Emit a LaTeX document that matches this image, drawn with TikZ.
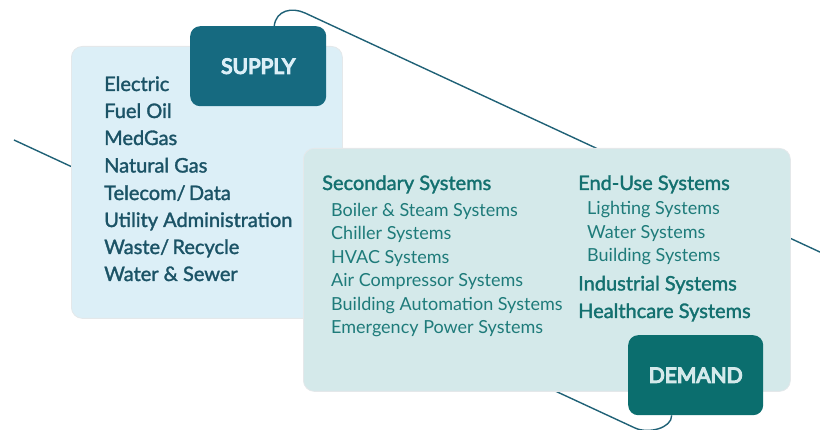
\documentclass[tikz,border=0pt]{standalone}
\usepackage{fontspec}
\setmainfont{Lato}
\newfontfamily\medfont{Lato}[FakeBold=1.6]
\newfontfamily\heavyfont{Lato}[FakeBold=6]
\usetikzlibrary{calc}
\definecolor{supfill}{HTML}{DCEFF7}
\definecolor{demfill}{HTML}{D4E9EA}
\definecolor{suptab}{HTML}{166A80}
\definecolor{demtab}{HTML}{0B6E6E}
\definecolor{suptext}{HTML}{1B5366}
\definecolor{demhead}{HTML}{13706F}
\definecolor{demsub}{HTML}{1E7B7A}
\definecolor{linecol}{HTML}{1F6176}
\definecolor{edge}{HTML}{E4E8EA}
\pgfdeclarelayer{bg}
\pgfsetlayers{bg,main}
\tikzset{
  panel/.style={draw=edge, line width=0.8pt, rounded corners=11pt, anchor=north west, inner sep=0pt},
  tabbox/.style={rounded corners=10pt, anchor=north west, inner sep=0pt, minimum width=136pt, minimum height=80pt},
  tablabel/.style={font=\fontsize{21}{24}\selectfont\heavyfont},
  supitem/.style={anchor=base west, inner sep=0pt, text=suptext, font=\fontsize{20}{24}\selectfont\medfont},
  demhd/.style={anchor=base west, inner sep=0pt, text=demhead, font=\fontsize{20}{22}\selectfont\medfont},
  demitem/.style={anchor=base west, inner sep=0pt, text=demsub, font=\fontsize{18}{20}\selectfont},
  connector/.style={draw=linecol, line width=1.4pt}
}
\begin{document}
\begin{tikzpicture}[x=1pt,y=-1pt]
\useasboundingbox (0,0) rectangle (820,430);
% panels
\node[panel, fill=supfill, minimum width=271pt, minimum height=272pt] (supplybox) at (71,46) {};
\node[tabbox, fill=suptab] (supplytab) at (190,26) {};
\node[tablabel, text=supfill] (supplylabel) at (supplytab.center) {SUPPLY};
\node[panel, fill=demfill, minimum width=487pt, minimum height=243pt] (demandbox) at (303,148) {};
\node[tabbox, fill=demtab, minimum width=135pt] (demandtab) at (628,335) {};
\node[tablabel, text=demfill] (demandlabel) at (demandtab.center) {DEMAND};
% connectors
\coordinate (leftend) at (14,140);
\coordinate (rightend) at (822,253);
\coordinate (topbend) at (305,13);
\coordinate (botbend) at (635,428);
\begin{pgfonlayer}{bg}
\draw[connector] ([xshift=16pt]supplytab.north) .. controls +(2,-16) and +(-13,-6) .. (topbend) -- (rightend);
\draw[connector] (leftend) -- (botbend) .. controls +(13,6) and +(0,13) .. ([xshift=-24pt]demandtab.south);
\end{pgfonlayer}
% supply list
\node[supitem] (s1) at (104,91) {Electric};
\node[supitem] (s2) at (104,118) {Fuel Oil};
\node[supitem] (s3) at (104,145) {MedGas};
\node[supitem] (s4) at (104,172.5) {Natural Gas};
\node[supitem] (s5) at (104,200) {Telecom/\,Data};
\node[supitem] (s6) at (104,227) {Utility Administration};
\node[supitem] (s7) at (104,254) {Waste/\,Recycle};
\node[supitem] (s8) at (104,281) {Water \& Sewer};
% secondary systems
\node[demhd] (d1) at (322,190) {Secondary Systems};
\node[demitem] (d2) at (331,216.5) {Boiler \& Steam Systems};
\node[demitem] (d3) at (331,240) {Chiller Systems};
\node[demitem] (d4) at (331,263.5) {HVAC Systems};
\node[demitem] (d5) at (331,287) {Air Compressor Systems};
\node[demitem] (d6) at (331,310.5) {Building Automation Systems};
\node[demitem] (d7) at (331,334) {Emergency Power Systems};
% end-use systems
\node[demhd] (e1) at (578,190) {End-Use Systems};
\node[demitem] (e2) at (587,215) {Lighting Systems};
\node[demitem] (e3) at (587,238.5) {Water Systems};
\node[demitem] (e4) at (587,262) {Building Systems};
\node[demhd] (e5) at (578,290.5) {Industrial Systems};
\node[demhd] (e6) at (578,318) {Healthcare Systems};
\end{tikzpicture}
\end{document}
